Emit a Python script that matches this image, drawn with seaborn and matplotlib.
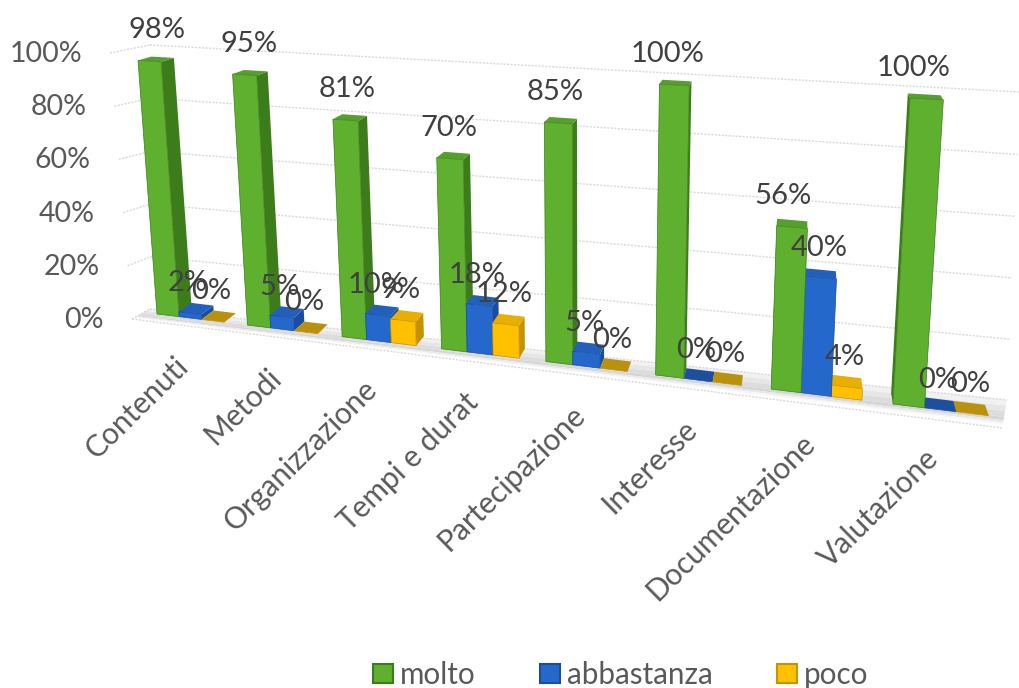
import numpy as np
import pandas as pd
import matplotlib
matplotlib.use("Agg")
import matplotlib.pyplot as plt
import matplotlib.transforms as mtransforms
from matplotlib.patches import Polygon
import seaborn as sns

# ==============================
# Data
# ==============================
categories = ["Contenuti", "Metodi", "Organizzazione", "Tempi e durat",
              "Partecipazione", "Interesse", "Documentazione", "Valutazione"]
molto = [98, 95, 81, 70, 85, 100, 56, 100]
abbastanza = [2, 5, 10, 18, 5, 0, 40, 0]
poco = [0, 0, 9, 12, 0, 0, 4, 0]
y_ticks = [0, 20, 40, 60, 80, 100]

W, H = 1020, 688


# ==============================
# Fake perspective of the old 3D chart
# ==============================
class Persp(mtransforms.Transform):
    input_dims = 2
    output_dims = 2

    def __init__(self, src, dst):
        super().__init__()
        A, b = [], []
        for (x, y), (u, v) in zip(src, dst):
            v = H - v
            A.append([x, y, 1, 0, 0, 0, -u * x, -u * y])
            A.append([0, 0, 0, x, y, 1, -v * x, -v * y])
            b += [u, v]
        self.m = np.append(np.linalg.solve(np.array(A, float), np.array(b, float)), 1).reshape(3, 3)

    def transform_non_affine(self, values):
        pts = np.column_stack([values, np.ones(len(values))]) @ self.m.T
        return pts[:, :2] / pts[:, 2:]


# front plane of the bars, picture pixels of four corners
front = Persp([(-0.375, 0), (6.625, 0), (-0.375, 100), (6.625, 100)],
              [(157, 314), (893, 404), (137.6, 55), (910, 98)])
# back wall
wall = Persp([(0, 0), (1, 0), (0, 100), (1, 100)],
             [(150, 309), (1007, 400), (150, 45), (1020, 92)])

vp = np.array([800, H + 130])
depth = 0.02


def back(p):
    return p + (vp - p) * depth


def px(x, y):
    return front.transform(np.array([[x, y]], float))[0]


sns.set_theme(style="white")
plt.rcParams["font.family"] = ["Lato", "DejaVu Sans"]

df = pd.DataFrame({"categoria": categories * 3,
                   "serie": ["molto"] * 8 + ["abbastanza"] * 8 + ["poco"] * 8,
                   "valore": molto + abbastanza + poco})

fig = plt.figure(figsize=(W / 100, H / 100), dpi=100)
ax = fig.add_axes([0, 0, 1, 1])
colors = {"molto": "#5EB02E", "abbastanza": "#2568CC", "poco": "#FFC000"}
sides = {"molto": "#3C7C1B", "abbastanza": "#1B4C9E", "poco": "#C79200"}
tops = {"molto": "#55A02C", "abbastanza": "#2260BC", "poco": "#E8AE00"}
flats = {"molto": "#55A02C", "abbastanza": "#1D4F9E", "poco": "#B8920E"}
sns.barplot(data=df, x="categoria", y="valore", hue="serie", palette=colors, saturation=1,
            width=0.75, gap=0, errorbar=None, ax=ax)
ids = mtransforms.IdentityTransform()

# ==============================
# Floor, walls, gridlines
# ==============================
floor_back = [np.array([150, H - 309.0]), np.array([1007, H - 400.0])]
floor_front = [np.array([132, H - 319.0]), np.array([1002, H - 428.0])]
steps = [(0.0, 0.2, "#f1f1f1"), (0.2, 0.4, "#e6e6e6"), (0.4, 0.6, "#dcdcdc"),
         (0.6, 0.72, "#d6d6d6"), (0.72, 0.8, "#e8e8e8"), (0.8, 0.86, "#f6f6f6")]
for t0, t1, c in steps:
    corners = [floor_back[0] + (floor_front[0] - floor_back[0]) * t0,
               floor_back[1] + (floor_front[1] - floor_back[1]) * t0,
               floor_back[1] + (floor_front[1] - floor_back[1]) * t1,
               floor_back[0] + (floor_front[0] - floor_back[0]) * t1]
    ax.add_patch(Polygon(corners, closed=True, color=c, lw=0, transform=ids, zorder=1))

grid_kw = dict(color="#d9d9d9", lw=1, ls=(0, (1.5, 1)), clip_on=False, zorder=1.5)
ax.plot([floor_front[0][0], floor_front[1][0]], [floor_front[0][1], floor_front[1][1]],
        transform=ids, **grid_kw)
for v in y_ticks:
    ax.plot([0, 1], [v, v], transform=wall, **grid_kw)
    start = wall.transform(np.array([[0.0, v]]))[0]
    # left wall edge
    xl = 132 - 22 * v / 100
    yl = H - (319 - 266 * v / 100)
    ax.plot([xl, start[0]], [yl, start[1]], transform=ids, **grid_kw)
    ax.text(xl - 28, yl - 1, f"{v}%", ha="right", va="center", fontsize=20.5,
            color="#595959", transform=ids)

# ==============================
# Bars: seaborn front faces + side and top faces
# ==============================
for cont, name in zip(ax.containers, colors):
    for patch, cat in zip(cont.patches, categories):
        x0, w, h = patch.get_x(), patch.get_width(), patch.get_height()
        bl, br, tl, tr = px(x0, 0), px(x0 + w, 0), px(x0, h), px(x0 + w, h)
        z = 2 + (1000 - abs((bl[0] + br[0]) / 2 - vp[0])) / 1000
        patch.set_transform(front)
        patch.set_clip_on(False)
        patch.set_zorder(z + 0.002)
        patch.set_edgecolor(sides[name])
        patch.set_linewidth(0.5)
        # side that faces the vanishing point
        a, b = (br, tr) if br[0] < vp[0] else (bl, tl)
        ax.add_patch(Polygon([a, b, back(b), back(a)], closed=True, color=sides[name], lw=0,
                             transform=ids, zorder=z))
        ax.add_patch(Polygon([tl, tr, back(tr), back(tl)], closed=True,
                             color=tops[name] if h > 0 else flats[name], lw=0,
                             transform=ids, zorder=z + 0.001))
        # value label
        cx = (tl + tr) / 2
        if name == "molto":
            dx = 7 - 20 * (cx[0] - 150) / 780
            dy = 31
        else:
            dx = -2
            dy = 30
        ax.text(cx[0] + dx, cx[1] + dy, f"{h:.0f}%", ha="center", va="center", fontsize=21,
                color="#404040", transform=ids, zorder=10)

# ==============================
# Category labels, legend
# ==============================
for i, cat in enumerate(categories):
    p = px(i, 0)
    ax.text(p[0] - 6, p[1] - 44, cat, rotation=44.5, rotation_mode="anchor", ha="right", va="center",
            fontsize=21.5, color="#595959", transform=ids)

ax.set_axis_off()
sns.move_legend(ax, "lower left", bbox_to_anchor=(0.3625, -0.006), ncol=3, title=None, frameon=False,
                fontsize=21.3, labelcolor="#595959", handlelength=0.67, handleheight=0.6,
                handletextpad=0.25, columnspacing=2.17, borderpad=0, borderaxespad=0.1)
for handle, name in zip(ax.get_legend().get_patches(), colors):
    handle.set_edgecolor(sides[name])
    handle.set_linewidth(1.5)

fig.savefig("out.png", dpi=100)
